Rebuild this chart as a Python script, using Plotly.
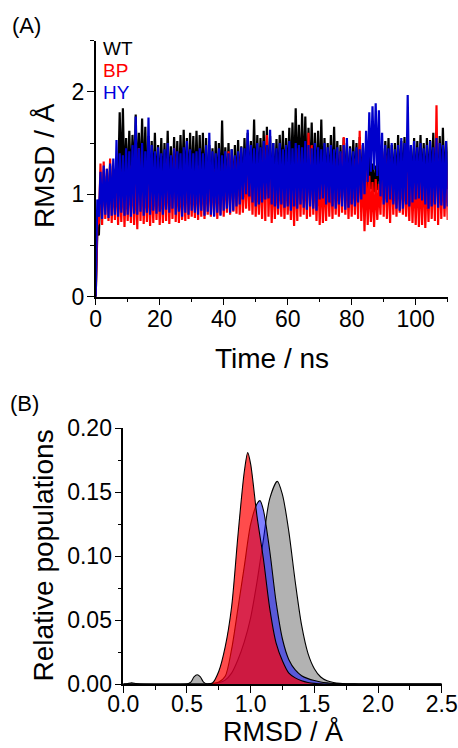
import plotly.graph_objects as go

# ---------------- Panel A: RMSD time series (per-ns min / max envelope)
time_ns = list(range(111))

wt_lo = [0.00,
         0.60, 0.88, 0.92, 0.95, 0.90, 0.98, 1.08, 1.12, 1.05, 1.10,
         1.08, 1.15, 1.10, 1.12, 1.06, 1.02, 0.98, 1.04, 1.00, 0.98,
         1.02, 1.05, 0.97, 1.00, 1.04, 1.02, 1.06, 1.03, 1.00, 1.05,
         1.02, 1.04, 1.00, 0.98, 0.96, 1.00, 0.98, 1.02, 0.97, 1.00,
         1.02, 0.98, 1.00, 1.03, 1.05, 1.02, 1.06, 1.04, 1.08, 1.02,
         1.05, 1.08, 1.04, 1.02, 1.00, 1.04, 1.06, 1.10, 1.08, 1.12,
         1.15, 1.10, 1.12, 1.14, 1.10, 1.08, 1.12, 1.06, 1.04, 1.02,
         1.00, 1.04, 1.02, 1.06, 1.00, 0.98, 1.02, 1.04, 1.00, 1.03,
         1.05, 1.02, 1.00, 1.04, 1.02, 1.05, 1.02, 1.04, 1.06, 1.02,
         1.04, 1.00, 1.06, 1.02, 1.05, 1.08, 1.03, 1.00, 1.05, 1.02,
         1.04, 1.06, 1.02, 1.05, 1.08, 1.04, 1.02, 1.06, 1.03, 1.05]
wt_hi = [0.62,
         1.12, 1.22, 1.18, 1.28, 1.25, 1.35, 1.80, 1.84, 1.55, 1.62,
         1.58, 1.78, 1.60, 1.74, 1.66, 1.57, 1.52, 1.60, 1.48, 1.55,
         1.50, 1.62, 1.47, 1.56, 1.52, 1.58, 1.63, 1.55, 1.60, 1.57,
         1.62, 1.58, 1.60, 1.55, 1.48, 1.45, 1.52, 1.50, 1.72, 1.46,
         1.50, 1.44, 1.48, 1.53, 1.47, 1.55, 1.60, 1.52, 1.73, 1.58,
         1.55, 1.62, 1.66, 1.57, 1.50, 1.54, 1.58, 1.62, 1.55, 1.65,
         1.70, 1.84, 1.68, 1.79, 1.76, 1.65, 1.70, 1.60, 1.62, 1.73,
         1.55, 1.50, 1.58, 1.66, 1.52, 1.48, 1.55, 1.50, 1.47, 1.53,
         1.50, 1.56, 1.48, 1.45, 1.40, 1.30, 1.28, 1.32, 1.45, 1.52,
         1.55, 1.48, 1.50, 1.58, 1.52, 1.56, 1.50, 1.47, 1.55, 1.52,
         1.58, 1.50, 1.55, 1.53, 1.60, 1.48, 1.57, 1.65, 1.52, 1.64]

bp_lo = [0.00,
         0.72, 0.70, 0.76, 0.74, 0.72, 0.75, 0.70, 0.73, 0.68, 0.74,
         0.72, 0.70, 0.66, 0.74, 0.71, 0.73, 0.69, 0.72, 0.75, 0.70,
         0.72, 0.74, 0.71, 0.76, 0.73, 0.72, 0.75, 0.74, 0.76, 0.78,
         0.77, 0.75, 0.78, 0.76, 0.80, 0.78, 0.79, 0.76, 0.80, 0.78,
         0.82, 0.80, 0.83, 0.81, 0.80, 0.82, 0.86, 0.84, 0.80, 0.78,
         0.80, 0.76, 0.74, 0.78, 0.72, 0.76, 0.80, 0.78, 0.76, 0.80,
         0.75, 0.69, 0.74, 0.78, 0.80, 0.76, 0.78, 0.80, 0.74, 0.70,
         0.72, 0.74, 0.78, 0.76, 0.80, 0.78, 0.82, 0.80, 0.76, 0.78,
         0.80, 0.76, 0.74, 0.64, 0.70, 0.73, 0.68, 0.75, 0.80, 0.78,
         0.76, 0.72, 0.80, 0.78, 0.82, 0.80, 0.78, 0.74, 0.72, 0.70,
         0.68, 0.70, 0.67, 0.73, 0.76, 0.74, 0.70, 0.76, 0.78, 0.75]
bp_hi = [0.70,
         1.30, 1.32, 1.25, 1.35, 1.20, 1.22, 1.18, 1.25, 1.20, 1.28,
         1.30, 1.22, 1.45, 1.25, 1.20, 1.24, 1.18, 1.22, 1.26, 1.20,
         1.28, 1.35, 1.22, 1.45, 1.25, 1.20, 1.24, 1.30, 1.22, 1.18,
         1.25, 1.28, 1.22, 1.20, 1.26, 1.22, 1.25, 1.20, 1.30, 1.28,
         1.42, 1.38, 1.35, 1.40, 1.30, 1.28, 1.32, 1.35, 1.30, 1.25,
         1.28, 1.45, 1.58, 1.30, 1.25, 1.22, 1.28, 1.25, 1.30, 1.22,
         1.26, 1.30, 1.45, 1.35, 1.30, 1.60, 1.48, 1.30, 1.28, 1.25,
         1.22, 1.30, 1.26, 1.35, 1.28, 1.40, 1.56, 1.30, 1.26, 1.35,
         1.30, 1.62, 1.28, 1.25, 1.18, 1.12, 1.15, 1.10, 1.42, 1.38,
         1.30, 1.35, 1.28, 1.32, 1.30, 1.28, 1.25, 1.30, 1.22, 1.28,
         1.25, 1.30, 1.22, 1.28, 1.32, 1.87, 1.35, 1.30, 1.28, 1.25]

hy_lo = [0.00,
         0.78, 0.76, 0.80, 0.77, 0.79, 0.80, 0.78, 0.82, 0.79, 0.80,
         0.78, 0.81, 0.80, 0.83, 0.79, 0.82, 0.80, 0.84, 0.81, 0.83,
         0.80, 0.85, 0.82, 0.86, 0.80, 0.83, 0.78, 0.82, 0.80, 0.84,
         0.82, 0.80, 0.84, 0.79, 0.83, 0.80, 0.78, 0.82, 0.79, 0.84,
         0.86, 0.82, 0.84, 0.88, 0.90, 0.95, 1.00, 0.98, 0.92, 0.88,
         0.90, 0.92, 0.95, 0.96, 0.90, 0.88, 0.86, 0.90, 0.87, 0.88,
         0.84, 0.88, 0.86, 0.90, 0.87, 0.85, 0.88, 0.86, 0.84, 0.95,
         0.96, 0.90, 0.92, 0.88, 0.86, 0.90, 0.88, 0.85, 0.87, 0.90,
         0.88, 0.92, 0.95, 1.00, 1.12, 1.22, 1.24, 1.18, 0.98, 0.90,
         0.92, 0.95, 0.90, 0.86, 0.84, 0.86, 0.90, 0.88, 0.92, 0.95,
         0.96, 0.94, 0.90, 0.86, 0.88, 0.90, 0.87, 0.89, 0.86, 0.88]
hy_hi = [0.95,
         1.22, 1.28, 1.25, 1.30, 1.35, 1.53, 1.40, 1.38, 1.45, 1.42,
         1.48, 1.76, 1.45, 1.50, 1.42, 1.75, 1.48, 1.42, 1.46, 1.40,
         1.44, 1.50, 1.38, 1.45, 1.42, 1.40, 1.46, 1.52, 1.44, 1.40,
         1.42, 1.45, 1.40, 1.48, 1.60, 1.42, 1.40, 1.45, 1.38, 1.42,
         1.40, 1.44, 1.38, 1.42, 1.46, 1.45, 1.63, 1.48, 1.45, 1.50,
         1.46, 1.52, 1.48, 1.63, 1.50, 1.45, 1.50, 1.44, 1.48, 1.52,
         1.45, 1.50, 1.48, 1.46, 1.52, 1.48, 1.45, 1.50, 1.46, 1.44,
         1.50, 1.46, 1.48, 1.44, 1.46, 1.42, 1.48, 1.55, 1.45, 1.42,
         1.46, 1.44, 1.50, 1.62, 1.80, 1.86, 1.89, 1.82, 1.60, 1.48,
         1.45, 1.50, 1.44, 1.48, 1.55, 1.50, 1.97, 1.48, 1.52, 1.46,
         1.50, 1.45, 1.48, 1.52, 1.46, 1.55, 1.50, 1.48, 1.52, 1.47]

# ---------------- Panel B: RMSD distributions
wt_x = [0.0, 0.03, 0.065, 0.10, 0.13, 0.50, 0.53, 0.555, 0.58, 0.605, 0.63, 0.66, 0.70, 0.75,
        0.80, 0.85, 0.90, 0.95, 1.00, 1.05, 1.10, 1.15, 1.209, 1.25, 1.30, 1.35, 1.40, 1.45,
        1.50, 1.55, 1.60, 1.65, 1.70, 1.75, 1.80, 1.85, 2.5]
wt_p = [0, 0.0002, 0.001, 0.0003, 0, 0, 0.0015, 0.0055, 0.0072, 0.0055, 0.0015, 0, 0.0003, 0.001,
        0.003, 0.0085, 0.019, 0.033, 0.052, 0.080, 0.113, 0.145, 0.1585, 0.148, 0.119, 0.080, 0.046, 0.024,
        0.012, 0.0055, 0.0025, 0.0012, 0.0005, 0.0002, 0.0001, 0, 0]

hy_x = [0.0, 0.65, 0.70, 0.75, 0.80, 0.85, 0.90, 0.95, 1.00, 1.05, 1.073, 1.10, 1.15, 1.20,
        1.25, 1.30, 1.35, 1.40, 1.45, 1.50, 1.55, 1.60, 1.65, 1.70, 1.75, 2.5]
hy_p = [0, 0, 0.0003, 0.0015, 0.006, 0.027, 0.059, 0.092, 0.125, 0.141, 0.1434, 0.136, 0.104, 0.064,
        0.035, 0.019, 0.011, 0.0065, 0.0042, 0.0027, 0.0016, 0.0009, 0.0004, 0.0002, 0, 0]

bp_x = [0.0, 0.60, 0.65, 0.70, 0.75, 0.80, 0.85, 0.90, 0.95, 0.977, 1.00, 1.05, 1.10, 1.15,
        1.20, 1.25, 1.30, 1.35, 1.40, 1.45, 1.50, 1.55, 1.60, 2.5]
bp_p = [0, 0, 0, 0.0008, 0.010, 0.029, 0.060, 0.116, 0.166, 0.181, 0.172, 0.131, 0.098, 0.059,
        0.032, 0.018, 0.0085, 0.0048, 0.0025, 0.0012, 0.0005, 0.0002, 0, 0]

FONT = "Arial, Liberation Sans, sans-serif"


def minmax_trace(lo, hi):
    xs, ys = [], []
    for t, a, b in zip(time_ns, lo, hi):
        xs += [t, t + 0.5]
        ys += [a, b]
    return xs, ys


fig = go.Figure()

for lo, hi, col in [(wt_lo, wt_hi, "#000000"), (bp_lo, bp_hi, "#ff0000"), (hy_lo, hy_hi, "#0000cc")]:
    xs, ys = minmax_trace(lo, hi)
    fig.add_trace(go.Scatter(x=xs, y=ys, mode="lines", line=dict(color=col, width=2.2),
                             xaxis="x", yaxis="y", showlegend=False, hoverinfo="skip"))

for xv, pv, fc in [(wt_x, wt_p, "rgba(0,0,0,0.30)"), (hy_x, hy_p, "rgba(0,0,255,0.50)"),
                   (bp_x, bp_p, "rgba(255,0,0,0.70)")]:
    fig.add_trace(go.Scatter(x=xv, y=pv, mode="lines", line=dict(color="black", width=1.1, shape="spline", smoothing=0.8),
                             fill="tozeroy", fillcolor=fc, xaxis="x2", yaxis="y2",
                             showlegend=False, hoverinfo="skip"))

W, H = 458, 748
axA_x = [95.7 / W, 447.7 / W]
axA_y = [1 - 296.7 / H, 1 - 40.7 / H]
axB_x = [123.3 / W, 441.7 / W]
axB_y = [1 - 684.0 / H, 1 - 428.3 / H]

common = dict(showline=True, linecolor="black", linewidth=1.5, showgrid=False, zeroline=False,
              ticks="outside", ticklen=7, tickwidth=1.3, tickcolor="black", automargin=False,
              tickfont=dict(family=FONT, size=23, color="black"))
ystand = dict(ticklabelstandoff=-2)

fig.update_layout(
    template="none",
    width=W, height=H, margin=dict(l=0, r=0, t=0, b=0, pad=0), autosize=False,
    paper_bgcolor="white", plot_bgcolor="white",
    xaxis=dict(domain=axA_x, anchor="y", range=[0, 110], tickvals=[0, 20, 40, 60, 80, 100],
               minor=dict(tickvals=[10, 30, 50, 70, 90, 110], ticks="outside", ticklen=4, tickcolor="black", tickwidth=1.3),
               ticklabelstandoff=-6, **common),
    yaxis=dict(domain=axA_y, anchor="x", range=[0, 2.5], tickvals=[0, 1, 2],
               minor=dict(tickvals=[0.5, 1.5, 2.5], ticks="outside", ticklen=4, tickcolor="black", tickwidth=1.3),
               **common, **ystand),
    xaxis2=dict(domain=axB_x, anchor="y2", range=[0, 2.5], tickvals=[0, 0.5, 1.0, 1.5, 2.0, 2.5],
                tickformat=".1f",
                minor=dict(tickvals=[0.25, 0.75, 1.25, 1.75, 2.25], ticks="outside", ticklen=4, tickcolor="black", tickwidth=1.3),
                ticklabelstandoff=-8, **common),
    yaxis2=dict(domain=axB_y, anchor="x2", range=[0, 0.2], tickvals=[0, 0.05, 0.10, 0.15, 0.20],
                tickformat=".2f",
                minor=dict(tickvals=[0.025, 0.075, 0.125, 0.175], ticks="outside", ticklen=4, tickcolor="black", tickwidth=1.3),
                **common, **ystand),
)


def px_ann(text, px, py, size, color="black", angle=0, xanchor="center"):
    fig.add_annotation(text=text, x=px / W, y=1 - py / H, xref="paper", yref="paper",
                       showarrow=False, textangle=angle, xanchor=xanchor, yanchor="middle",
                       font=dict(family=FONT, size=size, color=color))


px_ann("(A)", 26, 25, 22)
px_ann("(B)", 24, 403, 22)
px_ann("WT", 101, 48.5, 19, "#000000", xanchor="left")
px_ann("BP", 101, 70, 19, "#ff0000", xanchor="left")
px_ann("HY", 101, 92, 19, "#0000dd", xanchor="left")
px_ann("RMSD / Å", 44, 166, 28, angle=-90)
px_ann("Time / ns", 271.7, 358, 28)
px_ann("Relative populations", 42.5, 556, 28, angle=-90)
px_ann("RMSD / Å", 282.5, 731, 27)

fig.write_html("out.html", config={"displayModeBar": False},
               post_script="document.body.style.margin='0';document.body.style.overflow='hidden';")
